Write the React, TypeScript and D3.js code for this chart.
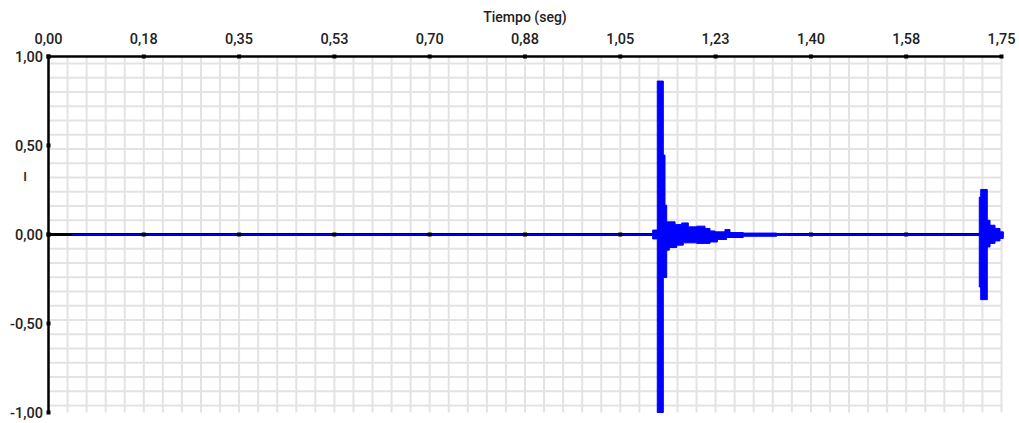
import React from 'react';
import * as d3 from 'd3';

// Axis ticks
const xTickValues = [0, 0.175, 0.35, 0.525, 0.7, 0.875, 1.05, 1.225, 1.4, 1.575, 1.75];
const xTickLabels = ['0,00', '0,18', '0,35', '0,53', '0,70', '0,88', '1,05', '1,23', '1,40', '1,58', '1,75'];
const yTickValues = [1, 0.5, 0, -0.5, -1];
const yTickLabels = ['1,00', '0,50', '0,00', '-0,50', '-1,00'];

// Signal extent (seconds)
const signalSpan = [0.0426, 1.7533];

// Envelope of the dense signal (step segments: start time, max, min)
const envTime = [
  1.1095, 1.1179, 1.129, 1.1321, 1.1352, 1.14, 1.1506, 1.1536, 1.1627, 1.1657,
  1.1749, 1.1903, 1.2055, 1.2147, 1.2239, 1.2283, 1.2422, 1.2452, 1.2514, 1.2759,
  1.3372, 1.3464, 1.3585,
  1.7092, 1.7118, 1.7239, 1.7289, 1.7381, 1.7472, 1.7533,
];
const envHigh = [
  0.025, 0.862, 0.446, 0.165, 0.071, 0.071, 0.056, 0.056, 0.065, 0.065,
  0.043, 0.047, 0.034, 0.02, 0.015, 0.015, 0.028, 0.028, 0.011, 0.008,
  0.004, 0.006, 0,
  0.21, 0.253, 0.08, 0.052, 0.034, 0.015, 0,
];
const envLow = [
  -0.025, -1.0, -0.242, -0.242, -0.088, -0.073, -0.073, -0.06, -0.06, -0.047,
  -0.047, -0.05, -0.05, -0.042, -0.042, -0.028, -0.028, -0.017, -0.017, -0.01,
  -0.004, -0.005, 0,
  -0.295, -0.366, -0.07, -0.05, -0.036, -0.022, 0,
];

export default function App() {
  const W = 1019;
  const H = 423;
  const left = 48.5, right = 1001.5, top = 56.5, bottom = 412.5;
  const x = d3.scaleLinear().domain([0, 1.75]).range([left, right]);
  const y = d3.scaleLinear().domain([-1, 1]).range([bottom, top]);

  const vGrid = d3.range(0, 51).map((i) => i * 0.035);
  const hGrid = d3.range(-12, 13).map((i) => i * 0.08).filter((v) => Math.abs(v) > 1e-9);

  const idx = envTime.map((_, i) => i);
  const areaPath = d3
    .area<number>()
    .x((i) => x(envTime[i]))
    .y0((i) => y(envLow[i]))
    .y1((i) => y(envHigh[i]))
    .curve(d3.curveStepAfter)(idx) as string;

  const linePath = d3
    .line<number>()
    .x((d) => x(d))
    .y(() => y(0))(signalSpan) as string;

  const font = 'Roboto, "Noto Sans", sans-serif';
  const tickSize = 4;

  return (
    <svg
      width={W}
      height={H}
      style={{ position: 'absolute', left: 0, top: 0, background: '#fff' }}
      fontFamily={font}
    >
      {/* grid */}
      <g stroke="#e3e3e3" strokeWidth={2}>
        {vGrid.map((v, i) => (
          <line key={'v' + i} x1={x(v)} x2={x(v)} y1={top} y2={bottom} />
        ))}
        {hGrid.map((v, i) => (
          <line key={'h' + i} x1={left} x2={right} y1={y(v)} y2={y(v)} />
        ))}
      </g>

      {/* zero line */}
      <line x1={left} x2={right} y1={y(0)} y2={y(0)} stroke="#000" strokeWidth={3} />

      {/* signal baseline */}
      <path d={linePath} stroke="#0000ff" strokeWidth={1.2} fill="none" />

      {/* zero-line tick marks */}
      {xTickValues.map((v, i) => (
        <rect key={'zt' + i} x={x(v) - tickSize / 2} y={y(0) - tickSize / 2} width={tickSize} height={tickSize} fill="#000" />
      ))}

      {/* signal envelope */}
      <path d={areaPath} fill="#0000ff" stroke="#0000ff" strokeWidth={1} />

      {/* axes */}
      <line x1={left} x2={right} y1={top} y2={top} stroke="#000" strokeWidth={2.5} />
      <line x1={left} x2={left} y1={top} y2={bottom} stroke="#000" strokeWidth={2.5} />
      {xTickValues.map((v, i) => (
        <g key={'xt' + i}>
          <rect x={x(v) - tickSize / 2} y={top - tickSize / 2} width={tickSize} height={tickSize} fill="#000" />
          <text x={x(v)} y={44} textAnchor="middle" fontSize={14.5} fontWeight={500} fill="#222">
            {xTickLabels[i]}
          </text>
        </g>
      ))}
      {yTickValues.map((v, i) => (
        <g key={'yt' + i}>
          <rect x={left - tickSize / 2} y={y(v) - tickSize / 2} width={tickSize} height={tickSize} fill="#000" />
          <text x={43} y={y(v)} dy="0.35em" textAnchor="end" fontSize={14.5} fontWeight={500} fill="#222">
            {yTickLabels[i]}
          </text>
        </g>
      ))}

      {/* titles */}
      <text x={(left + right) / 2} y={22} textAnchor="middle" fontSize={14} fontWeight={500} fill="#222">
        Tiempo (seg)
      </text>
      <text x={25} y={181} textAnchor="middle" fontSize={13} fontWeight={500} fill="#222">
        I
      </text>
    </svg>
  );
}
